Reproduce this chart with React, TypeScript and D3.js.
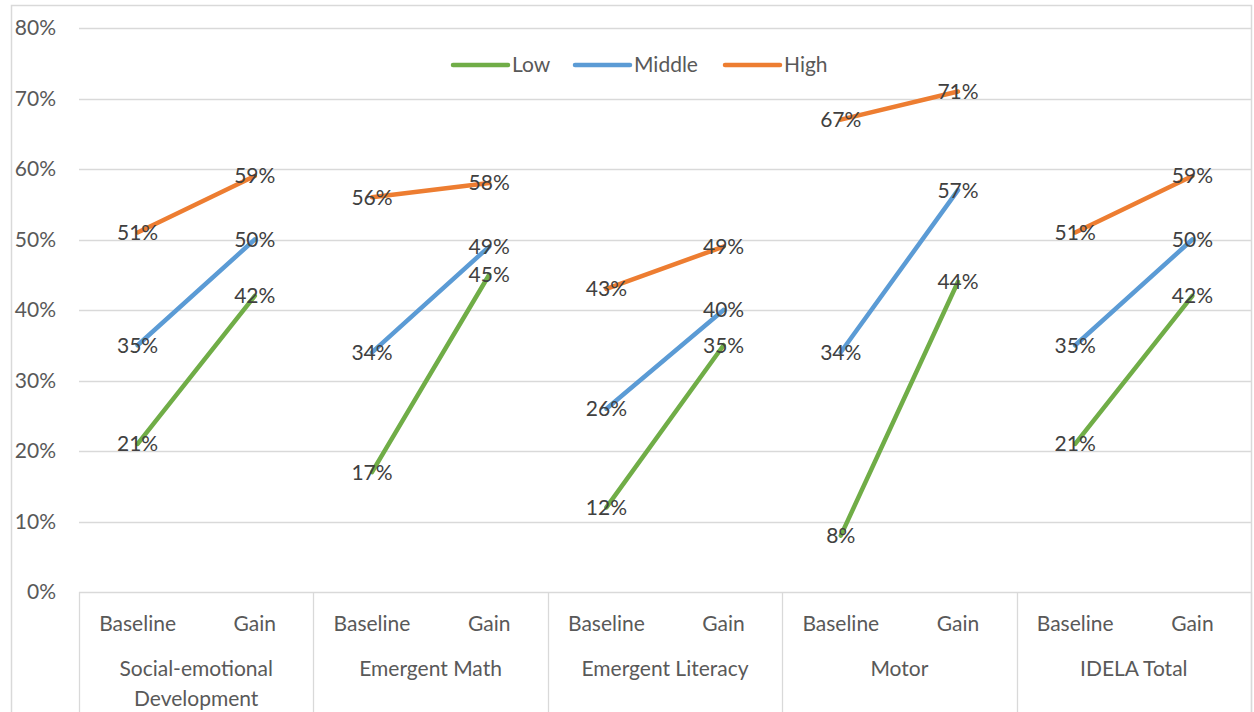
import { useEffect, useRef } from "react";
import * as d3 from "d3";

// Data
const groups = ["Social-emotional Development", "Emergent Math", "Emergent Literacy", "Motor", "IDELA Total"];
const groupLines = [["Social-emotional", "Development"], ["Emergent Math"], ["Emergent Literacy"], ["Motor"], ["IDELA Total"]];
const phases = ["Baseline", "Gain"];
const seriesNames = ["Low", "Middle", "High"];
const seriesColors = ["#70AD47", "#5B9BD5", "#ED7D31"];
// [baseline, gain] per group
const lowValues = [[21, 42], [17, 45], [12, 35], [8, 44], [21, 42]];
const middleValues = [[35, 50], [34, 49], [26, 40], [34, 57], [35, 50]];
const highValues = [[51, 59], [56, 58], [43, 49], [67, 71], [51, 59]];
const yTicks = [0, 10, 20, 30, 40, 50, 60, 70, 80];

const W = 1254;
const H = 712;
const FONT = "Lato, 'Open Sans', sans-serif";
const FS = 21;
const TEXT = "#595959";
const GRID = "#d9d9d9";

export default function App() {
  const ref = useRef<SVGSVGElement>(null);

  useEffect(() => {
    if (!ref.current) return;
    const svg = d3.select(ref.current);
    svg.selectAll("*").remove();

    const left = 79, right = 1251, top = 28, bottom = 592;

    const y = d3.scaleLinear().domain([0, 80]).range([bottom, top]);
    const xGroup = d3.scaleBand<string>().domain(groups).range([left, right]);
    const xPhase = d3.scalePoint<string>().domain(phases).range([0, xGroup.bandwidth()]).padding(0.5);

    // outer chart border
    svg.append("rect")
      .attr("x", 11.5).attr("y", 5.5)
      .attr("width", 1240).attr("height", H)
      .attr("fill", "white").attr("stroke", GRID).attr("stroke-width", 1.5);

    // gridlines
    svg.append("g").selectAll("line")
      .data(yTicks.filter(t => t > 0))
      .enter().append("line")
      .attr("x1", left).attr("x2", right)
      .attr("y1", d => Math.round(y(d)) + 0.5).attr("y2", d => Math.round(y(d)) + 0.5)
      .attr("stroke", GRID).attr("stroke-width", 1.3);

    // y tick labels
    svg.append("g").selectAll("text")
      .data(yTicks)
      .enter().append("text")
      .attr("x", 56).attr("y", d => y(d))
      .attr("dy", "0.35em")
      .attr("text-anchor", "end")
      .attr("font-family", FONT).attr("font-size", FS).attr("fill", TEXT)
      .text(d => `${d}%`);

    // category axis
    const axis = svg.append("g");
    axis.append("line")
      .attr("x1", left).attr("x2", right)
      .attr("y1", bottom + 0.5).attr("y2", bottom + 0.5)
      .attr("stroke", GRID).attr("stroke-width", 1.3);
    axis.selectAll("line.sep")
      .data([...groups.map(g => xGroup(g)!), right])
      .enter().append("line")
      .attr("class", "sep")
      .attr("x1", d => Math.round(d) + 0.5).attr("x2", d => Math.round(d) + 0.5)
      .attr("y1", bottom).attr("y2", H)
      .attr("stroke", GRID).attr("stroke-width", 1.3);

    groups.forEach((g, gi) => {
      const gx = xGroup(g)!;
      phases.forEach(p => {
        axis.append("text")
          .attr("x", gx + xPhase(p)!).attr("y", 624)
          .attr("dy", "0.35em").attr("text-anchor", "middle")
          .attr("font-family", FONT).attr("font-size", FS).attr("fill", TEXT)
          .text(p);
      });
      groupLines[gi].forEach((line, li) => {
        axis.append("text")
          .attr("x", gx + xGroup.bandwidth() / 2).attr("y", 669 + li * 30)
          .attr("dy", "0.35em").attr("text-anchor", "middle")
          .attr("font-family", FONT).attr("font-size", FS).attr("fill", TEXT)
          .text(line);
      });
    });

    // series segments
    const allSeries = [lowValues, middleValues, highValues];
    const line = d3.line<[number, number]>().x(d => d[0]).y(d => d[1]);

    allSeries.forEach((vals, si) => {
      const gS = svg.append("g");
      groups.forEach((g, gi) => {
        const pts: [number, number][] = phases.map((p, pi) => [xGroup(g)! + xPhase(p)!, y(vals[gi][pi])]);
        gS.append("path")
          .attr("d", line(pts))
          .attr("fill", "none")
          .attr("stroke", seriesColors[si])
          .attr("stroke-width", 4.5)
          .attr("stroke-linecap", "round");
      });
    });

    // data labels (centered on points)
    allSeries.forEach(vals => {
      groups.forEach((g, gi) => {
        phases.forEach((p, pi) => {
          svg.append("text")
            .attr("x", xGroup(g)! + xPhase(p)!).attr("y", y(vals[gi][pi]))
            .attr("dy", "0.35em").attr("text-anchor", "middle")
            .attr("font-family", FONT).attr("font-size", FS).attr("fill", "#404040")
            .text(`${vals[gi][pi]}%`);
        });
      });
    });

    // legend
    const legendX = [453, 575, 725];
    const legend = svg.append("g");
    seriesNames.forEach((name, i) => {
      legend.append("line")
        .attr("x1", legendX[i]).attr("x2", legendX[i] + 55)
        .attr("y1", 65).attr("y2", 65)
        .attr("stroke", seriesColors[i]).attr("stroke-width", 4.5)
        .attr("stroke-linecap", "round");
      legend.append("text")
        .attr("x", legendX[i] + 59).attr("y", 65)
        .attr("dy", "0.35em")
        .attr("font-family", FONT).attr("font-size", FS).attr("fill", TEXT)
        .text(name);
    });
  }, []);

  return (
    <svg
      ref={ref}
      width={W}
      height={H}
      style={{ position: "absolute", left: 0, top: 0, background: "white" }}
    />
  );
}
